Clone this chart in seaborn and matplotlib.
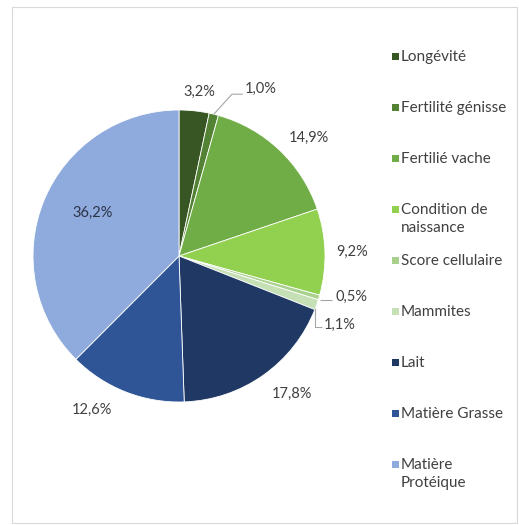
import numpy as np
import matplotlib
matplotlib.use("Agg")
import matplotlib.pyplot as plt
import seaborn as sns
from matplotlib.patches import Rectangle

# ---- data ----
categories = ["Longévité", "Fertilité génisse", "Fertilié vache",
              "Condition de\nnaissance", "Score cellulaire", "Mammites",
              "Lait", "Matière Grasse", "Matière\nProtéique"]
values = [3.2, 1.0, 14.9, 9.2, 0.5, 1.1, 17.8, 12.6, 36.2]
pct_labels = [f"{v:.1f}".replace(".", ",") + "%" for v in values]
colors = ["#375623", "#548235", "#70AD47", "#92D050", "#A9D18E",
          "#C5E0B4", "#1F3864", "#2F5597", "#8FAADC"]

sns.set_theme(style="white")
plt.rcParams["font.family"] = ["Lato", "DejaVu Sans"]

W, H = 519, 525
fig = plt.figure(figsize=(W / 100, H / 100), dpi=100)
fig.patch.set_facecolor("white")

# pie geometry in pixels
cx, cy, R = 179, 256, 146
lim = 1.2
ax = fig.add_axes([(cx - lim * R) / W, (H - cy - lim * R) / H,
                   2 * lim * R / W, 2 * lim * R / H])

wedges, _ = ax.pie(values, colors=colors, startangle=90, counterclock=False,
                   radius=1, wedgeprops=dict(edgecolor="white", linewidth=0.6))
ax.set_xlim(-lim, lim)
ax.set_ylim(-lim, lim)
ax.set_aspect("equal")
ax.axis("off")

txt_color = "#404040"
fs = 10.5
lfs = 11

def mid(w):
    return (w.theta1 + w.theta2) / 2.0

# label placement: (radius factor, clockwise angle offset in degrees)
label_polar = {0: (1.13, 1.0), 2: (1.20, 4.3), 3: (1.185, 0.3),
               6: (1.22, -4.2), 7: (1.21, 8.2), 8: (0.66, 3.8)}
for i, (r, d) in label_polar.items():
    t = np.deg2rad(mid(wedges[i]) - d)
    col = "#2b3447" if i == 8 else txt_color
    ax.text(r * np.cos(t), r * np.sin(t), pct_labels[i], ha="center",
            va="center", fontsize=fs, color=col)

line_kw = dict(color="#a6a6a6", lw=0.8, solid_capstyle="butt")

# 1,0% leader line
t = np.deg2rad(mid(wedges[1]))
x0, y0 = np.cos(t), np.sin(t)
t2 = np.deg2rad(mid(wedges[1]) - 4.3)
x1, y1 = 1.166 * np.cos(t2), 1.166 * np.sin(t2)
ax.plot([x0, x1, x1 + 0.075], [y0, y1, y1], **line_kw)
ax.text(x1 + 0.09, y1 + 0.035, pct_labels[1], ha="left", va="center",
        fontsize=fs, color=txt_color)

# 0,5% leader line
t = np.deg2rad(mid(wedges[4]))
x0, y0 = np.cos(t), np.sin(t)
ax.plot([x0 + 0.01, x0 + 0.09], [y0 - 0.015, y0 - 0.015], **line_kw)
ax.text(x0 + 0.11, y0 + 0.005, pct_labels[4], ha="left", va="center",
        fontsize=fs, color=txt_color)

# 1,1% leader line
t = np.deg2rad(mid(wedges[5]))
x0, y0 = np.cos(t), np.sin(t)
ax.plot([x0 - 0.01, x0 - 0.01, x0 + 0.035], [y0 - 0.02, y0 - 0.15, y0 - 0.15], **line_kw)
ax.text(x0 + 0.05, y0 - 0.135, pct_labels[5], ha="left", va="center",
        fontsize=fs, color=txt_color)

# ---- legend (drawn manually to mimic Excel layout) ----
for i, (cat, c) in enumerate(zip(categories, colors)):
    ypx = 56 + 51 * i
    fig.patches.append(Rectangle((392 / W, 1 - (ypx + 3.5) / H), 7 / W, 7 / H,
                                 transform=fig.transFigure, facecolor=c,
                                 edgecolor="none"))
    for k, line in enumerate(cat.split("\n")):
        fig.text(401 / W, 1 - (ypx + 1 + 18 * k) / H, line, ha="left",
                 va="center", fontsize=lfs, color=txt_color)

# outer frame
fig.patches.append(Rectangle((12 / W, (H - 523) / H), (517 - 12) / W, (523 - 7) / H,
                             transform=fig.transFigure, fill=False,
                             edgecolor="#d9d9d9", lw=0.8))

fig.savefig("out.png", dpi=100)
